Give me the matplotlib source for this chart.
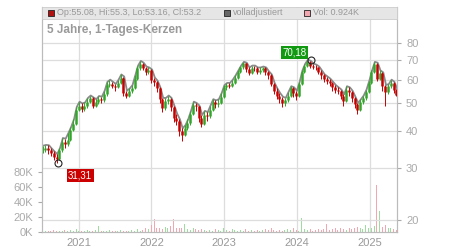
import numpy as np
import pandas as pd
import matplotlib
matplotlib.use('Agg')
import matplotlib.pyplot as plt
import matplotlib.dates as mdates
from matplotlib.patches import Rectangle

plt.rcParams['font.family'] = ['Liberation Sans', 'DejaVu Sans']

# biweekly candles (EUR)
dates = pd.date_range('2020-07-03', periods=128, freq='14D')
closes = [34.6, 35.2, 34.5, 33.8, 32.8, 32.2, 34.5, 36.8, 36.2, 37.5,
          40.5, 42.5, 47.3, 49.0, 47.8, 49.0, 50.5, 51.8, 49.0, 50.2,
          51.4, 51.0, 53.5, 57.6, 58.2, 57.2, 56.5, 58.5, 61.0, 54.0,
          53.0, 54.8, 56.2, 60.5, 65.5, 68.0, 65.8, 63.5, 64.5, 60.0,
          58.9, 56.0, 51.5, 48.2, 50.8, 51.5, 48.5, 44.5, 43.5, 40.0,
          39.0, 41.0, 42.8, 46.0, 49.2, 48.8, 44.5, 42.5, 45.5, 45.0,
          47.5, 50.4, 49.5, 50.0, 52.5, 56.5, 57.4, 57.0, 58.5, 61.0,
          63.5, 66.0, 68.2, 65.0, 63.2, 65.8, 65.5, 63.5, 64.5, 65.5,
          63.5, 62.0, 58.0, 55.0, 53.0, 51.5, 50.0, 51.0, 53.0, 56.0,
          54.0, 53.0, 58.0, 63.5, 67.0, 69.0, 66.8, 66.5, 66.0, 63.8,
          62.0, 60.2, 59.5, 58.5, 56.5, 55.4, 55.0, 53.0, 50.8, 55.5,
          54.5, 52.0, 49.5, 47.5, 50.5, 51.8, 54.5, 58.5, 63.5, 68.0,
          60.5, 63.0, 57.0, 54.5, 57.0, 58.5, 55.5, 53.2]
highs = [35.8, 36.0, 35.9, 35.0, 34.2, 33.5, 35.2, 38.0, 37.8, 39.5,
         41.5, 44.0, 48.5, 50.5, 49.8, 50.2, 52.0, 53.0, 52.2, 51.5,
         52.8, 52.5, 55.0, 59.0, 60.0, 59.0, 58.0, 60.0, 62.5, 61.5,
         55.0, 56.0, 57.5, 62.0, 67.0, 69.5, 68.5, 66.5, 66.0, 65.0,
         61.0, 59.5, 56.5, 52.0, 52.0, 53.0, 52.0, 49.0, 46.0, 44.0,
         41.0, 42.0, 44.0, 47.0, 50.5, 50.0, 49.0, 45.5, 47.0, 46.5,
         49.0, 51.5, 51.0, 51.5, 54.0, 57.5, 58.5, 58.5, 60.0, 62.0,
         64.5, 67.0, 69.0, 68.5, 66.0, 67.0, 67.0, 66.0, 66.0, 66.5,
         66.0, 64.0, 62.5, 58.5, 56.0, 54.0, 52.5, 52.0, 54.5, 57.0,
         56.5, 55.0, 59.0, 64.5, 68.0, 70.18, 69.5, 68.0, 67.5, 66.5,
         64.5, 62.5, 61.5, 60.5, 59.0, 57.5, 56.5, 55.5, 53.5, 57.0,
         56.5, 55.0, 52.5, 50.0, 51.5, 53.0, 55.5, 59.5, 64.5, 69.0,
         68.5, 64.5, 63.5, 57.5, 58.0, 60.0, 59.0, 55.8]
lows = [33.9, 34.0, 33.6, 33.0, 31.9, 31.31, 32.0, 34.0, 35.2, 35.8,
        37.0, 40.0, 42.0, 46.8, 46.5, 47.0, 48.2, 50.0, 48.0, 48.5,
        49.6, 50.0, 50.5, 53.0, 56.5, 56.0, 55.0, 56.0, 58.0, 53.0,
        52.0, 52.5, 54.0, 55.8, 60.0, 64.5, 64.5, 62.0, 62.5, 58.5,
        57.0, 54.5, 50.0, 46.5, 47.5, 49.5, 47.0, 43.0, 42.0, 38.5,
        37.2, 38.5, 40.5, 42.0, 45.5, 47.0, 43.0, 41.5, 42.0, 43.5,
        44.5, 47.0, 48.0, 48.5, 49.5, 52.0, 55.5, 56.0, 56.5, 58.0,
        60.5, 63.0, 65.0, 63.5, 62.0, 62.5, 64.0, 62.5, 62.5, 63.5,
        62.0, 60.5, 57.0, 53.5, 51.5, 50.0, 48.5, 49.0, 50.5, 52.5,
        52.5, 51.0, 52.5, 57.5, 63.0, 66.5, 65.5, 65.0, 64.5, 62.5,
        60.5, 59.0, 58.0, 57.0, 55.0, 54.0, 53.5, 51.5, 49.0, 50.5,
        53.0, 50.5, 48.0, 46.0, 47.0, 49.5, 51.0, 54.0, 58.0, 63.0,
        59.5, 60.0, 55.0, 49.0, 53.5, 56.0, 54.0, 53.0]
# volume in thousands
volumes = [2, 1, 1, 2, 3, 1, 2, 2, 3, 2,
           3, 2, 4, 2, 2, 1, 3, 2, 2, 3,
           8, 2, 1, 2, 3, 2, 1, 2, 3, 2,
           2, 1, 3, 2, 4, 2, 3, 5, 4, 9,
           17, 6, 5, 4, 7, 6, 8, 17, 6, 5,
           6, 11, 4, 3, 5, 4, 3, 4, 3, 2,
           3, 2, 4, 3, 2, 5, 3, 2, 4, 3,
           2, 3, 2, 4, 2, 3, 2, 3, 2, 3,
           4, 3, 5, 3, 2, 3, 2, 3, 4, 3,
           5, 3, 2, 19, 4, 3, 4, 2, 3, 4,
           3, 4, 11, 3, 4, 5, 3, 6, 4, 3,
           5, 4, 6, 7, 5, 4, 9, 6, 5, 8,
           63, 28, 7, 9, 6, 5, 4, 3]
low_date, low_value = pd.Timestamp('2020-09-18'), 31.31
high_date, high_value = pd.Timestamp('2024-03-12'), 70.18
price_ticks = [20, 30, 40, 50, 60, 70, 80]
vol_ticks = [0, 20, 40, 60, 80]
years = [2021, 2022, 2023, 2024, 2025]

opens = [closes[0]] + closes[:-1]
up = [c >= o for o, c in zip(opens, closes)]

fig = plt.figure(figsize=(4.5, 2.5), dpi=100)
ax = fig.add_axes([42 / 450, 18 / 250, 355 / 450, 225 / 250])
ax2 = ax.twinx()

grid_c = '#dddddd'
lab_c = '#aaaaaa'

# volume (left axis)
vcol = ['#9fdc9f' if u else '#f2a6b0' for u in up]
ax.bar(dates, volumes, width=5, color=vcol, zorder=1)
ax.set_ylim(0, 300)
ax.set_yticks(vol_ticks)
ax.set_yticklabels([f'{v}K' for v in vol_ticks])

# price (right axis, log)
ax2.set_yscale('log')
ax2.set_ylim(18.2, 106)
ax2.plot(dates + pd.Timedelta(days=4), highs, color='#8a8a8a', lw=1.3, zorder=2)
ccol = ['#33a52a' if u else '#c40000' for u in up]
ax2.vlines(dates, lows, highs, colors=ccol, lw=0.7, zorder=3)
ax2.vlines(dates, opens, closes, colors=ccol, lw=1.8, zorder=3)
ax2.set_yticks(price_ticks)
ax2.set_yticklabels([str(p) for p in price_ticks])
ax2.yaxis.set_minor_locator(plt.NullLocator())
ax2.grid(axis='y', color=grid_c, lw=0.9, zorder=0)

for y in years:
    ax.axvline(pd.Timestamp(f'{y}-01-01'), color=grid_c, lw=0.9, zorder=0)

ax.set_xlim(dates[0] - pd.Timedelta(days=3), dates[-1] + pd.Timedelta(days=3))
ax.xaxis.set_major_locator(mdates.YearLocator())
ax.xaxis.set_major_formatter(mdates.DateFormatter('%Y'))

for a in (ax, ax2):
    for s in a.spines.values():
        s.set_color('#bbbbbb')
    a.spines['top'].set_visible(False)
    a.tick_params(colors='#aaaaaa', labelcolor=lab_c, labelsize=8, length=3, width=0.8)
ax.tick_params(axis='x', length=0, pad=4, labelcolor='#999999')

# annotations for low and high
ax2.plot([low_date], [low_value], 'o', mfc='none', mec='#222222', ms=5, mew=0.8, zorder=5)
ax2.plot([high_date], [high_value], 'o', mfc='none', mec='#222222', ms=5, mew=0.8, zorder=5)
ax2.annotate(f'{low_value:.2f}'.replace('.', ','), (low_date, low_value), xytext=(16, -9),
             textcoords='offset points', ha='center', va='center', color='white', fontsize=7,
             bbox=dict(boxstyle='square,pad=0.15', fc='#cc0000', ec='none'), zorder=6)
ax2.annotate(f'{high_value:.2f}'.replace('.', ','), (high_date, high_value), xytext=(-12, 5),
             textcoords='offset points', ha='center', va='center', color='white', fontsize=7,
             bbox=dict(boxstyle='square,pad=0.15', fc='#119911', ec='none'), zorder=6)

# header band and legend
ax2.add_patch(Rectangle((0, 1 - 12 / 225), 1, 12 / 225, transform=ax2.transAxes,
                        fc='#e6e6e6', ec='#cccccc', lw=0.6, zorder=10, clip_on=False))
hy = 1 - 6 / 225
items = [(6, '#b01010', 'Op:55.08, Hi:55.3, Lo:53.16, Cl:53.2'),
         (182, '#666666', 'volladjustiert'),
         (262, '#f2a6b0', 'Vol: 0.924K')]
for px, col, txt in items:
    ax2.add_patch(Rectangle((px / 355, hy - 3 / 225), 6 / 355, 6 / 225, transform=ax2.transAxes,
                            fc=col, ec='#222222', lw=0.6, zorder=11, clip_on=False))
    ax2.text((px + 9) / 355, hy, txt, transform=ax2.transAxes, fontsize=6.5, color='#999999',
             va='center', ha='left', zorder=12)
ax2.text(5 / 355, 1 - 23 / 225, '5 Jahre, 1-Tages-Kerzen', transform=ax2.transAxes,
         fontsize=8.5, fontweight='bold', color='#999999', va='center', ha='left', zorder=12)

fig.savefig('out.png', dpi=100)
